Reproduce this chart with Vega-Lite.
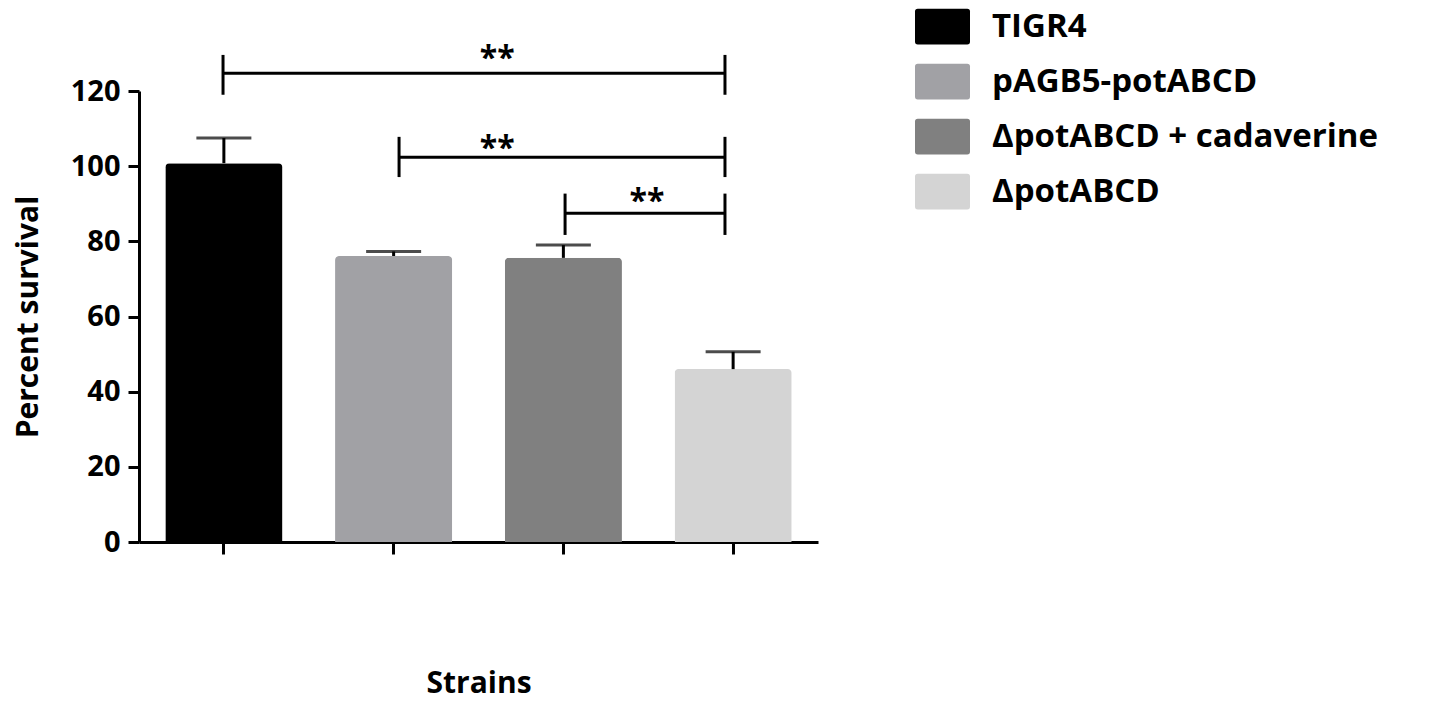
{
  "$schema": "https://vega.github.io/schema/vega-lite/v6.json",
  "width": 679,
  "height": 451,
  "autosize": {"type": "none"},
  "padding": {"left": 139, "top": 91, "right": 619, "bottom": 161},
  "background": "white",
  "config": {"view": {"stroke": null}, "font": "Open Sans"},
  "datasets": {
    "bars": [
      {"strain": "TIGR4", "survival": 100.8, "upper": 107.5},
      {"strain": "pAGB5-potABCD", "survival": 76.1, "upper": 77.3},
      {"strain": "ΔpotABCD + cadaverine", "survival": 75.6, "upper": 79.0},
      {"strain": "ΔpotABCD", "survival": 46.0, "upper": 50.6}
    ],
    "brackets": [
      {"left": 0.495, "right": 3.452, "level": 124.7, "low": 119.0, "high": 129.6, "starX": 2.11, "starY": 125.9, "label": "**"},
      {"left": 1.532, "right": 3.452, "level": 102.4, "low": 97.1, "high": 107.8, "starX": 2.11, "starY": 101.8, "label": "**"},
      {"left": 2.51, "right": 3.452, "level": 87.5, "low": 81.7, "high": 92.7, "starX": 2.993, "starY": 87.9, "label": "**"}
    ]
  },
  "layer": [
    {
      "data": {"name": "bars"},
      "encoding": {
        "x": {
          "field": "strain", "type": "nominal", "sort": null,
          "scale": {"paddingInner": 0.31, "paddingOuter": 0.155},
          "axis": {
            "title": "Strains", "labels": false,
            "domainWidth": 3, "domainColor": "black",
            "tickWidth": 3, "tickColor": "black", "tickSize": 12,
            "titleFont": "Open Sans", "titleFontSize": 30, "titleFontWeight": "bold",
            "titleColor": "black", "titlePadding": 113
          }
        }
      },
      "layer": [
        {
          "mark": {"type": "bar", "cornerRadiusTopLeft": 4, "cornerRadiusTopRight": 4},
          "encoding": {
            "y": {
              "field": "survival", "type": "quantitative",
              "scale": {"domain": [0, 120]},
              "axis": {
                "title": "Percent survival", "values": [0, 20, 40, 60, 80, 100, 120],
                "grid": false, "domainWidth": 3, "domainColor": "black",
                "tickWidth": 3, "tickColor": "black", "tickSize": 11,
                "labelFont": "Open Sans", "labelFontSize": 29, "labelFontWeight": "bold",
                "labelColor": "black", "labelPadding": 8,
                "titleFont": "Open Sans", "titleFontSize": 30, "titleFontWeight": "bold",
                "titleColor": "black", "titlePadding": 27
              }
            },
            "color": {
              "field": "strain", "type": "nominal", "sort": null,
              "scale": {
                "domain": ["TIGR4", "pAGB5-potABCD", "ΔpotABCD + cadaverine", "ΔpotABCD"],
                "range": ["#000000", "#a1a1a5", "#808080", "#d4d4d4"]
              },
              "legend": {
                "orient": "none", "legendX": 776, "legendY": -92,
                "title": null,
                "symbolType": "M-0.9,-0.65H0.9Q1,-0.65 1,-0.55V0.55Q1,0.65 0.9,0.65H-0.9Q-1,0.65 -1,0.55V-0.55Q-1,-0.65 -0.9,-0.65Z",
                "symbolSize": 3025, "symbolStrokeWidth": 0, "symbolOpacity": 1,
                "labelFont": "Open Sans", "labelFontSize": 33, "labelFontWeight": "bold",
                "labelColor": "black", "labelOffset": 22, "rowPadding": 9, "labelLimit": 0
              }
            }
          }
        },
        {
          "mark": {"type": "rule", "strokeWidth": 3, "color": "black"},
          "encoding": {
            "y": {"field": "survival", "type": "quantitative", "scale": {"domain": [0, 120]}},
            "y2": {"field": "upper"}
          }
        },
        {
          "mark": {"type": "tick", "size": 55, "thickness": 3, "color": "black"},
          "encoding": {
            "y": {"field": "upper", "type": "quantitative", "scale": {"domain": [0, 120]}}
          }
        }
      ]
    },
    {
      "data": {"name": "brackets"},
      "layer": [
        {
          "mark": {"type": "rule", "strokeWidth": 3, "color": "black"},
          "encoding": {
            "x": {"field": "left", "type": "quantitative", "scale": {"domain": [0, 4], "nice": false, "zero": false}, "axis": null},
            "x2": {"field": "right"},
            "y": {"field": "level", "type": "quantitative", "scale": {"domain": [0, 120]}}
          }
        },
        {
          "mark": {"type": "rule", "strokeWidth": 3, "color": "black"},
          "encoding": {
            "x": {"field": "left", "type": "quantitative", "scale": {"domain": [0, 4], "nice": false, "zero": false}, "axis": null},
            "y": {"field": "low", "type": "quantitative", "scale": {"domain": [0, 120]}},
            "y2": {"field": "high"}
          }
        },
        {
          "mark": {"type": "rule", "strokeWidth": 3, "color": "black"},
          "encoding": {
            "x": {"field": "right", "type": "quantitative", "scale": {"domain": [0, 4], "nice": false, "zero": false}, "axis": null},
            "y": {"field": "low", "type": "quantitative", "scale": {"domain": [0, 120]}},
            "y2": {"field": "high"}
          }
        },
        {
          "mark": {"type": "text", "font": "Open Sans", "fontSize": 32, "fontWeight": "bold", "align": "center", "baseline": "alphabetic", "color": "black"},
          "encoding": {
            "x": {"field": "starX", "type": "quantitative", "scale": {"domain": [0, 4], "nice": false, "zero": false}, "axis": null},
            "y": {"field": "starY", "type": "quantitative", "scale": {"domain": [0, 120]}},
            "text": {"field": "label"}
          }
        }
      ]
    }
  ],
  "resolve": {"scale": {"x": "independent"}, "axis": {"x": "independent"}}
}
